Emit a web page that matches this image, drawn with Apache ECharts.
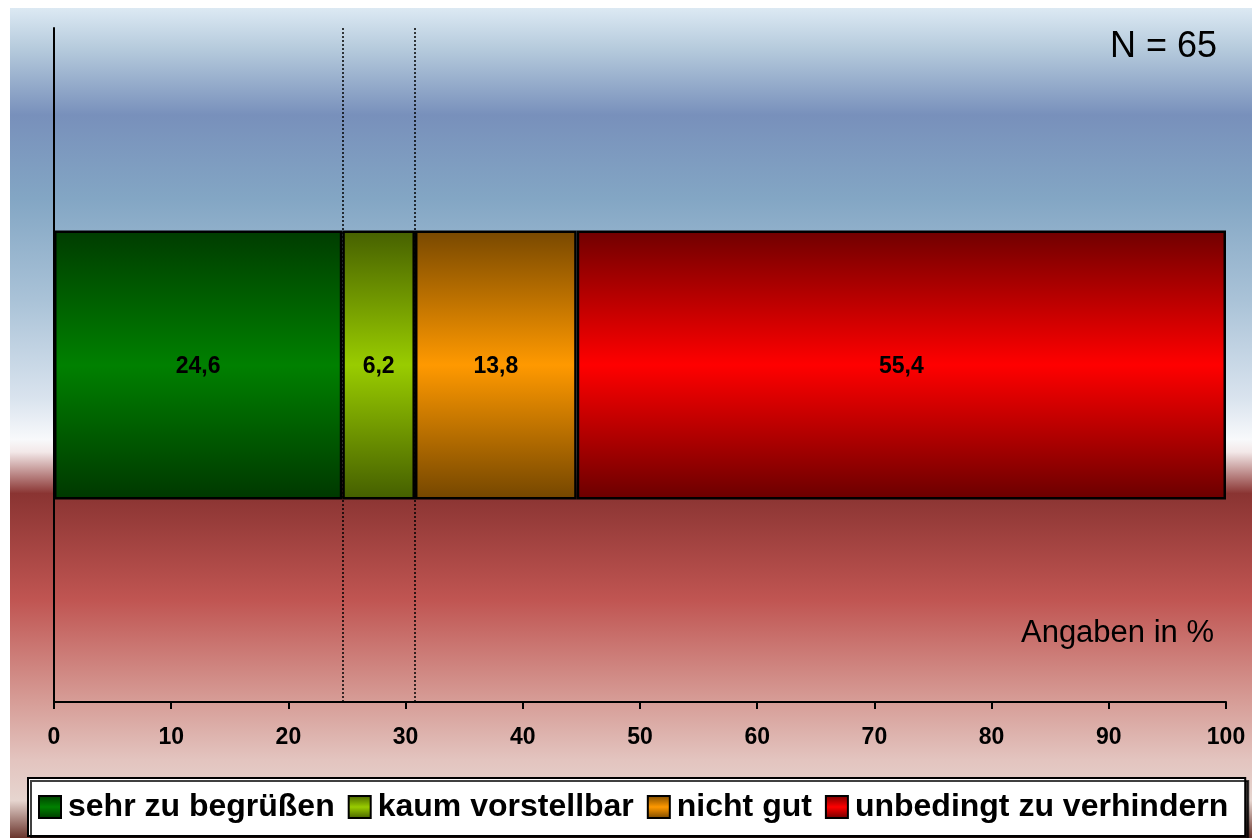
<!DOCTYPE html>
<html>
<head>
<meta charset="utf-8">
<title>Angaben in %</title>
<script src="https://cdn.jsdelivr.net/npm/echarts@6/dist/echarts.min.js"></script>
<style>
  html, body { margin: 0; padding: 0; background: #ffffff; }
  #chart { width: 1252px; height: 838px; }
</style>
</head>
<body>
<div id="chart"></div>
<script>
// Daten
const categories = ['sehr zu begrüßen', 'kaum vorstellbar', 'nicht gut', 'unbedingt zu verhindern'];
const shares = [24.6, 6.2, 13.8, 55.4];
const rowLabels = [''];
const sampleText = 'N = 65';
const unitText = 'Angaben in %';

// Farben (dunkel - hell - dunkel)
const palette = [
  ['#003c00', '#008000', '#003800'],
  ['#466000', '#99cc00', '#445e00'],
  ['#784800', '#ff9900', '#744600'],
  ['#700000', '#ff0000', '#6a0000']
];
const font = '"Liberation Sans", Arial, sans-serif';

function barGradient(c) {
  return new echarts.graphic.LinearGradient(0, 0, 0, 1, [
    { offset: 0, color: c[0] },
    { offset: 0.5, color: c[1] },
    { offset: 1, color: c[2] }
  ]);
}

// Grenzlinien nach "kaum vorstellbar"
let cum = 0;
const dividers = [];
for (let i = 0; i < 2; i++) {
  cum += shares[i];
  dividers.push(Math.round(cum * 10) / 10);
}

const series = categories.map(function (name, i) {
  let s = {
    name: name,
    type: 'bar',
    stack: 'total',
    barWidth: 269,
    data: [shares[i]],
    itemStyle: {
      color: barGradient(palette[i]),
      borderColor: '#000',
      borderWidth: 2.5
    },
    label: {
      show: true,
      position: 'inside',
      color: '#000',
      fontFamily: font,
      fontWeight: 'bold',
      fontSize: 23,
      offset: [0, 2],
      formatter: function (p) { return String(p.value).replace('.', ','); }
    }
  };
  if (i === 0) {
    s.markLine = {
      silent: true,
      symbol: 'none',
      label: { show: false },
      lineStyle: { color: '#000', type: [2, 2], width: 1.5 },
      data: dividers.map(function (v) { return { xAxis: v }; })
    };
  }
  return s;
});

const chart = echarts.init(document.getElementById('chart'));
chart.setOption({
  animation: false,
  graphic: [{
    type: 'rect',
    z: -10,
    silent: true,
    shape: { x: 10, y: 8, width: 1242, height: 830 },
    style: {
      fill: new echarts.graphic.LinearGradient(0, 0, 0, 1, [
        { offset: 0, color: '#dce9f3' },
        { offset: 0.05, color: '#b5cadc' },
        { offset: 0.129, color: '#7890bb' },
        { offset: 0.23, color: '#83a6c4' },
        { offset: 0.35, color: '#a9c2d7' },
        { offset: 0.47, color: '#d9e3ee' },
        { offset: 0.52, color: '#f8f9fb' },
        { offset: 0.535, color: '#f3e8e8' },
        { offset: 0.585, color: '#8a3432' },
        { offset: 0.713, color: '#c05552' },
        { offset: 0.834, color: '#d69c96' },
        { offset: 0.906, color: '#e3c4bf' },
        { offset: 0.955, color: '#e6d5cf' },
        { offset: 1, color: '#6a342c' }
      ])
    }
  }, {
    type: 'text',
    right: 35,
    top: 29,
    style: { text: sampleText, font: '36px ' + font, fill: '#000' }
  }, {
    type: 'text',
    right: 38,
    top: 618,
    style: { text: unitText, font: '31px ' + font, fill: '#000' }
  }],
  grid: { left: 54, right: 26, top: 28, bottom: 136 },
  xAxis: {
    type: 'value',
    min: 0,
    max: 100,
    interval: 10,
    splitLine: { show: false },
    axisLine: { show: true, lineStyle: { color: '#000', width: 2 } },
    axisTick: { show: true, length: 7, lineStyle: { color: '#000', width: 2 } },
    axisLabel: { color: '#000', fontFamily: font, fontWeight: 'bold', fontSize: 23, margin: 24 }
  },
  yAxis: {
    type: 'category',
    data: rowLabels,
    axisLine: { show: true, lineStyle: { color: '#000', width: 2 } },
    axisTick: { show: false },
    axisLabel: { show: false }
  },
  legend: {
    left: 28,
    top: 778,
    width: 1300,
    padding: [13, 17, 13, 10],
    itemGap: 13,
    itemWidth: 22,
    itemHeight: 22,
    icon: 'rect',
    backgroundColor: '#fff',
    borderColor: '#000',
    borderWidth: 2,
    shadowColor: 'rgba(0,0,0,0.75)',
    shadowOffsetX: 3,
    shadowOffsetY: 3,
    shadowBlur: 0,
    textStyle: { color: '#000', fontFamily: font, fontWeight: 'bold', fontSize: 32, lineHeight: 26, padding: [0, 0, 0, 2] },
    data: categories
  },
  series: series
});
window.addEventListener('resize', function () {
  chart.resize();
});
</script>
</body>
</html>
